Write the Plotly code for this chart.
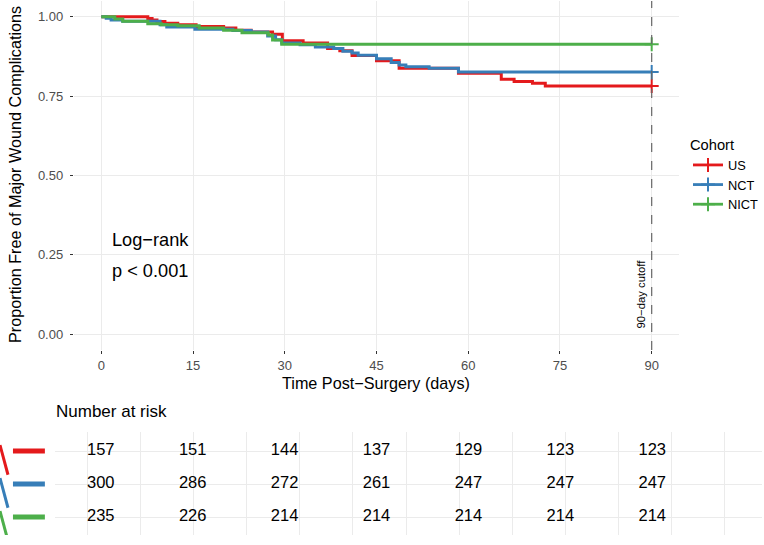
import plotly.graph_objects as go

# ---------------- data ----------------
cohorts = ["US", "NCT", "NICT"]
colors = ["#E41A1C", "#377EB8", "#4DAF4A"]

us_t = [0, 7.6, 8.3, 9.1, 10.4, 12.5, 15.5, 20, 22, 24.5, 28, 29.6, 33, 37, 39, 41, 45, 48.7, 58.4, 65.4, 67.5, 70.5, 72.6, 90]
us_s = [1.0, 0.995, 0.99, 0.985, 0.98, 0.975, 0.97, 0.965, 0.958, 0.952, 0.945, 0.925, 0.918, 0.9, 0.893, 0.878, 0.862, 0.838, 0.822, 0.803, 0.796, 0.791, 0.782, 0.782]

nct_t = [0, 0.8, 1.6, 3.5, 9.6, 10.7, 15.3, 21.5, 24.5, 27.2, 28.5, 29.5, 32.5, 35, 38, 39.5, 41, 42, 45, 47.4, 48.7, 49.8, 53.6, 58.4, 90]
nct_s = [1.0, 0.996, 0.99, 0.986, 0.975, 0.968, 0.961, 0.957, 0.952, 0.94, 0.928, 0.918, 0.912, 0.905, 0.9, 0.892, 0.886, 0.879, 0.868, 0.856, 0.848, 0.843, 0.838, 0.826, 0.826]

nict_t = [0, 2.2, 3.5, 7.6, 9.8, 12.5, 16, 20, 23, 27.3, 28, 29.5, 90]
nict_s = [1.0, 0.993, 0.986, 0.978, 0.975, 0.972, 0.965, 0.958, 0.95, 0.943, 0.927, 0.914, 0.914]

times = [us_t, nct_t, nict_t]
survs = [us_s, nct_s, nict_s]

risk_times = [0, 15, 30, 45, 60, 75, 90]
risk_us = [157, 151, 144, 137, 129, 123, 123]
risk_nct = [300, 286, 272, 261, 247, 247, 247]
risk_nict = [235, 226, 214, 214, 214, 214, 214]
risk = [risk_us, risk_nct, risk_nict]

x_ticks = [0, 15, 30, 45, 60, 75, 90]
y_ticks = [0, 0.25, 0.5, 0.75, 1.0]

FONT = "Liberation Sans, Arial, Helvetica, sans-serif"
W, H = 764, 545

fig = go.Figure()

# survival curves
for name, col, t, s in zip(cohorts, colors, times, survs):
    fig.add_trace(go.Scatter(x=t, y=s, mode="lines", line=dict(color=col, width=3, shape="hv"),
                             showlegend=False, hoverinfo="skip", xaxis="x", yaxis="y"))
# censor marks (also legend entries)
for name, col, t, s in zip(cohorts, colors, times, survs):
    fig.add_trace(go.Scatter(x=[t[-1]], y=[s[-1]], mode="lines+markers", name=name,
                             line=dict(color=col, width=2.8),
                             marker=dict(symbol="cross-thin", size=10, line=dict(color=col, width=2)),
                             xaxis="x", yaxis="y"))

# risk table numbers
row_pos = [3, 2, 1]
for r, vals in zip(row_pos, risk):
    fig.add_trace(go.Scatter(x=risk_times, y=[r] * len(vals), mode="text",
                             text=[str(v) for v in vals],
                             textfont=dict(family=FONT, size=16.5, color="#000000"),
                             showlegend=False, hoverinfo="skip", xaxis="x2", yaxis="y2"))

# ---------------- layout ----------------
px_x = lambda p: p / W
px_y = lambda p: (H - p) / H

fig.update_layout(
    width=W, height=H,
    margin=dict(l=0, r=0, t=0, b=0),
    paper_bgcolor="white", plot_bgcolor="white",
    font=dict(family=FONT, color="#000000"),
    xaxis=dict(domain=[px_x(74), px_x(681)], range=[-4.5, 94.5], tickvals=x_ticks,
               showgrid=True, gridcolor="#EBEBEB", gridwidth=1, zeroline=False, showline=False,
               ticks="outside", ticklen=3, tickcolor="#333333", tickwidth=1,
               tickfont=dict(size=13, color="#4D4D4D"),
               anchor="y"),
    yaxis=dict(domain=[px_y(350), px_y(1)], range=[-0.05, 1.05], tickvals=y_ticks, tickformat=".2f",
               showgrid=True, gridcolor="#EBEBEB", gridwidth=1, zeroline=False, showline=False,
               ticks="outside", ticklen=3, tickcolor="#333333", tickwidth=1, ticklabelstandoff=4,
               tickfont=dict(size=13, color="#4D4D4D"),
               anchor="x"),
    xaxis2=dict(domain=[px_x(55), 1.0], range=[-46 / 6.144, (764 - 101) / 6.144],
                tick0=(87.3 - 101) / 6.144, dtick=53.3 / 6.144,
                showgrid=True, gridcolor="#EBEBEB", gridwidth=1, zeroline=False, showline=False,
                showticklabels=False, ticks="", anchor="y2"),
    yaxis2=dict(domain=[px_y(535), px_y(432)], range=[1 - 18 / 33, 3 + 19 / 33],
                tickvals=row_pos, showticklabels=False, ticks="",
                showgrid=True, gridcolor="#EBEBEB", gridwidth=1, zeroline=False, showline=False,
                anchor="x2"),
    legend=dict(x=px_x(690), y=px_y(131), xanchor="left", yanchor="top",
                title=dict(text="Cohort", font=dict(size=14.7, color="#000000")),
                font=dict(size=12.8, color="#000000"), bgcolor="rgba(0,0,0,0)",
                tracegroupgap=0, itemwidth=30),
    showlegend=True,
)

shapes = []
shapes.append(dict(type="line", xref="x", yref="y domain", x0=90, x1=90, y0=0, y1=1,
                   line=dict(color="#666666", width=1.2, dash="dash"), layer="above"))
for r, col in zip(row_pos, colors):
    shapes.append(dict(type="line", xref="paper", yref="y2", x0=px_x(13), x1=px_x(45), y0=r, y1=r,
                       line=dict(color=col, width=5)))
for r, col in zip(row_pos, colors):
    shapes.append(dict(type="line", xref="paper", yref="y2", x0=px_x(0), x1=px_x(8),
                       y0=r + 0.18, y1=r - 0.72, line=dict(color=col, width=3)))
fig.update_layout(shapes=shapes)

annotations = [
    dict(text="Proportion Free of Major Wound Complications", x=px_x(15), y=px_y(174),
         xref="paper", yref="paper", xanchor="center", yanchor="middle", textangle=-90,
         showarrow=False, font=dict(size=16.2, color="#000000")),
    dict(text="Time Post\u2212Surgery (days)", x=px_x(377), y=px_y(383),
         xref="paper", yref="paper", xanchor="center", yanchor="middle",
         showarrow=False, font=dict(size=16.2, color="#000000")),
    dict(text="Log\u2212rank", x=1.5, y=0.297, xref="x", yref="y", xanchor="left", yanchor="middle",
         showarrow=False, font=dict(size=18.2, color="#000000")),
    dict(text="p < 0.001", x=1.5, y=0.2, xref="x", yref="y", xanchor="left", yanchor="middle",
         showarrow=False, font=dict(size=18.2, color="#000000")),
    dict(text="90\u2212day cutoff", x=88.2, y=0.012, xref="x", yref="y", xanchor="center", yanchor="bottom",
         textangle=-90, showarrow=False, font=dict(size=11.3, color="#000000")),
    dict(text="Number at risk", x=px_x(54), y=px_y(411), xref="paper", yref="paper",
         xanchor="left", yanchor="middle", showarrow=False, font=dict(size=17, color="#000000")),
]
fig.update_layout(annotations=annotations)

fig.write_html("out.html")
